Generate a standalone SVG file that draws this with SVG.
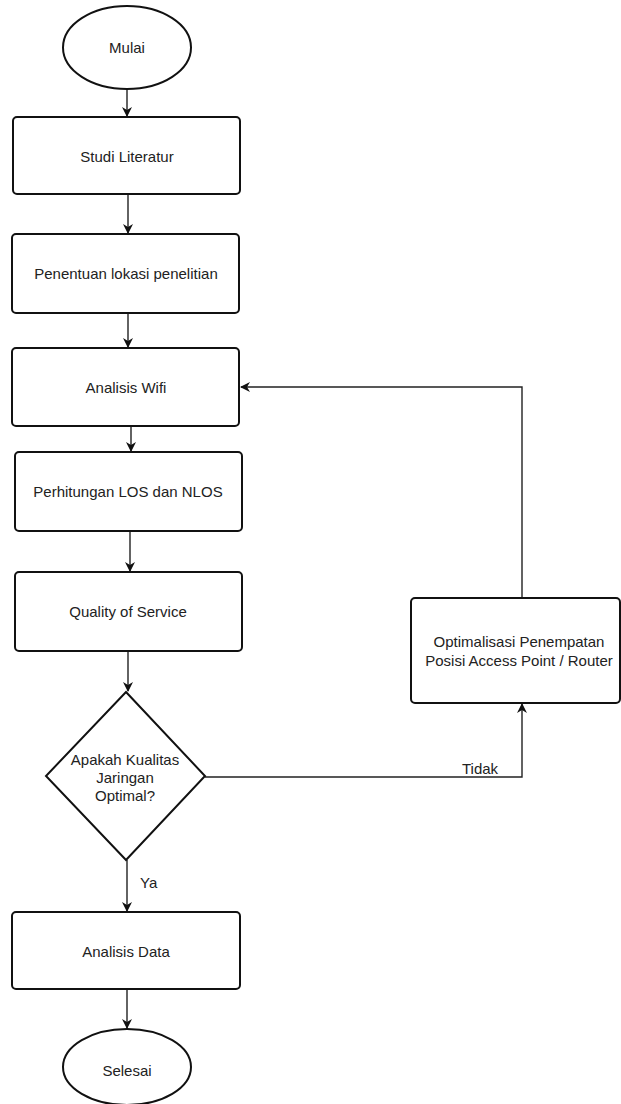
<svg xmlns="http://www.w3.org/2000/svg" width="621" height="1104" viewBox="0 0 621 1104">
<style>
.shape{fill:#fff;stroke:#111;stroke-width:2}
.t{font-family:"Liberation Sans",Arial,sans-serif;font-size:15px;fill:#222;text-anchor:middle}
.lbl{font-family:"Liberation Sans",Arial,sans-serif;font-size:15px;fill:#222}
.c{fill:none;stroke:#222;stroke-width:1.4}
</style>
<defs>
<marker id="ah" viewBox="0 0 10 10" refX="9" refY="5" markerWidth="10" markerHeight="10" markerUnits="userSpaceOnUse" orient="auto">
<path d="M0,0 L10,5 L0,10 L3,5 Z" fill="#111"/>
</marker>
</defs>
<rect width="621" height="1104" fill="#fff"/>
<g id="connectors">
<path class="c" d="M127,89 V116" marker-end="url(#ah)"/>
<path class="c" d="M128,194 V233" marker-end="url(#ah)"/>
<path class="c" d="M128,313 V347" marker-end="url(#ah)"/>
<path class="c" d="M131,426 V451" marker-end="url(#ah)"/>
<path class="c" d="M130,531 V571" marker-end="url(#ah)"/>
<path class="c" d="M128,651 V691" marker-end="url(#ah)"/>
<path class="c" d="M127,860 V911" marker-end="url(#ah)"/>
<path class="c" d="M127,989 V1028" marker-end="url(#ah)"/>
<path class="c" d="M205,777 H522 V704" marker-end="url(#ah)"/>
<path class="c" d="M522,598 V387 H241" marker-end="url(#ah)"/>
<text class="lbl" x="462" y="774">Tidak</text>
<text class="lbl" x="140" y="888">Ya</text>
</g>
<g id="mulai">
<ellipse class="shape" cx="127" cy="47.5" rx="64" ry="41.5"/>
<text class="t" x="127" y="53">Mulai</text>
</g>
<g id="studi">
<rect class="shape" x="13" y="117" width="227" height="77" rx="4"/>
<text class="t" x="127" y="162">Studi Literatur</text>
</g>
<g id="penentuan">
<rect class="shape" x="12" y="234" width="227" height="79" rx="4"/>
<text class="t" x="126" y="279">Penentuan lokasi penelitian</text>
</g>
<g id="wifi">
<rect class="shape" x="12" y="348" width="227" height="78" rx="4"/>
<text class="t" x="126" y="393">Analisis Wifi</text>
</g>
<g id="perhitungan">
<rect class="shape" x="15" y="452" width="227" height="79" rx="4"/>
<text class="t" x="128" y="497">Perhitungan LOS dan NLOS</text>
</g>
<g id="qos">
<rect class="shape" x="15" y="572" width="227" height="79" rx="4"/>
<text class="t" x="128" y="617">Quality of Service</text>
</g>
<g id="decision">
<polygon class="shape" points="126,692 205,776 126,860 46,776"/>
<text class="t" x="125" y="765">Apakah Kualitas</text>
<text class="t" x="125" y="783">Jaringan</text>
<text class="t" x="125" y="801">Optimal?</text>
</g>
<g id="optimalisasi">
<rect class="shape" x="411" y="598" width="209" height="105" rx="4"/>
<text class="t" x="519" y="647">Optimalisasi Penempatan</text>
<text class="t" x="519" y="666">Posisi Access Point / Router</text>
</g>
<g id="analisisdata">
<rect class="shape" x="12" y="912" width="228" height="77" rx="4"/>
<text class="t" x="126" y="957">Analisis Data</text>
</g>
<g id="selesai">
<ellipse class="shape" cx="127" cy="1067" rx="64" ry="38"/>
<text class="t" x="127" y="1076">Selesai</text>
</g>
</svg>
